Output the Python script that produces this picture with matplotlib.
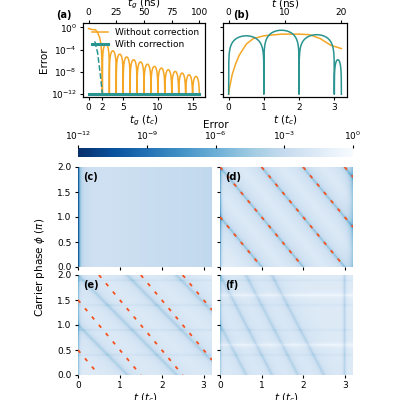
import numpy as np
import matplotlib
matplotlib.use("Agg")
import matplotlib.pyplot as plt
from matplotlib.colors import LogNorm

plt.rcParams['font.size'] = 6.5
plt.rcParams['xtick.major.size'] = 2.5
plt.rcParams['ytick.major.size'] = 2.5
plt.rcParams['xtick.major.pad'] = 2
plt.rcParams['ytick.major.pad'] = 2
ORANGE = "#F5A623"
TEAL = "#2A9490"
RED = "#F4511E"

# (a) data
a_peak_n = list(range(2, 16))
a_peak_log = [-3.0, -4.2, -4.8, -5.3, -5.8, -6.2, -6.6, -7.0, -7.3, -7.6, -7.9, -8.2, -8.5, -8.8]
a_head_t = [0.0, 0.3, 0.6, 1.0, 1.3, 1.6, 1.8, 1.95]
a_head_log = [-0.2, -0.3, -0.4, -0.4, -0.9, -1.8, -3.0, -6.0]
a_dash_t = [0.9, 1.3, 1.7, 2.0]
a_dash_log = [-2.5, -4.5, -8.5, -12.0]
# (b) data
b_or_t = [0.0, 0.02, 0.1, 0.2, 0.3, 0.5, 0.7, 1.0, 1.5, 2.0, 2.3, 2.6, 2.9, 3.2]
b_or_log = [-12.0, -11.0, -8.5, -6.5, -5.0, -3.0, -2.0, -1.5, -1.2, -1.2, -1.3, -2.0, -3.2, -3.8]
b_seg_edges = [0.0, 1.0, 2.0, 3.0, 3.2]
b_seg_peak_log = [-1.5, -0.5, -1.3, -5.8]
# heatmap line offsets
d_offsets = [1, 2, 3, 4, 5]
e_offsets = [0.5, 1.5, 2.5, 3.5, 4.5]
e_dark_offsets = [1.0, 2.0, 3.0, 4.0]
e_bands = [0.4, 0.9, 1.4, 1.9]
f_dark_offsets = [1.0, 2.0, 3.0, 4.0]
f_white_bands = [0.6, 1.6]
f_dark_bands = [0.4, 0.9, 1.4, 1.9]

def dip_curve(edges, peaks, npts=200):
    ts, vs = [], []
    for i, pk in enumerate(peaks):
        t0, t1 = edges[i], edges[i + 1]
        tt = np.linspace(t0, t1, npts)
        s = np.abs(np.sin(np.pi * (tt - t0) / (t1 - t0)))
        v = pk + 2.5 * np.log10(np.maximum(s, 1e-12))
        ts.append(tt); vs.append(np.clip(v, -12, 0))
    return np.concatenate(ts), 10 ** np.concatenate(vs)

fig = plt.figure(figsize=(4, 4), dpi=100)

# (a)
axa = fig.add_axes([0.2075, 0.7575, 0.305, 0.185])
ta, va = dip_curve(list(range(2, 17)), a_peak_log)
axa.plot(np.r_[a_head_t, ta], np.r_[10 ** np.array(a_head_log), va], color=ORANGE, lw=1.1, label="Without correction")
axa.plot([0, 16], [1e-12, 1e-12], color=TEAL, lw=2.2, label="With correction")
axa.plot(a_dash_t, 10 ** np.array(a_dash_log), color=TEAL, lw=1.1, ls="--")
axa.set_yscale("log")
axa.set_ylim(10 ** -12.5, 10 ** 0.8)
axa.set_xlim(-0.8, 16.8)
axa.set_yticks([1e0, 1e-4, 1e-8, 1e-12])
axa.minorticks_off()
axa.set_xticks([0, 2, 5, 10, 15])
axa.set_xlabel("$t_g$ ($t_c$)", labelpad=1, fontsize=7.5)
axa.set_ylabel("Error", labelpad=1, fontsize=7.5)
axa.legend(loc="upper right", frameon=False, fontsize=6.5, handlelength=1.8, borderpad=0.1, labelspacing=0.3)
sa = axa.twiny()
sa.set_xlim(-0.8 * 100 / 16, 16.8 * 100 / 16)
sa.set_xticks([0, 25, 50, 75, 100])
sa.set_xlabel("$t_g$ (ns)", labelpad=1, fontsize=7.5)
axa.text(-0.22, 1.07, "(a)", transform=axa.transAxes, fontweight="bold", fontsize=7)

# (b)
axb = fig.add_axes([0.5575, 0.7575, 0.31, 0.185])
axb.plot(b_or_t, 10 ** np.array(b_or_log), color=ORANGE, lw=1.1)
tb, vb = dip_curve(b_seg_edges, b_seg_peak_log)
axb.plot(tb, vb, color=TEAL, lw=1.1)
axb.set_yscale("log")
axb.set_ylim(10 ** -12.5, 10 ** 0.8)
axb.set_yticks([1e0, 1e-4, 1e-8, 1e-12])
axb.set_yticklabels([])
axb.minorticks_off()
axb.set_xlim(-0.16, 3.36)
axb.set_xticks([0, 1, 2, 3])
axb.set_xlabel("$t$ ($t_c$)", labelpad=1, fontsize=7.5)
sb = axb.twiny()
sb.set_xlim(-0.16 * 20 / 3.2, 3.36 * 20 / 3.2)
sb.set_xticks([0, 10, 20])
sb.set_xlabel("$t$ (ns)", labelpad=1, fontsize=7.5)
axb.text(0.08, 1.07, "(b)", transform=axb.transAxes, fontweight="bold", fontsize=7)

# heatmaps
t = np.linspace(0, 3.2, 321)
p = np.linspace(0, 2, 201)
T, P = np.meshgrid(t, p)

def line_dist(offsets, slope=1.0):
    d = np.full(T.shape, 10.0)
    for c in offsets:
        d = np.minimum(d, np.abs(P - (c - slope * T)) / np.sqrt(1 + slope ** 2))
    return d

def band_dist(bands):
    d = np.full(T.shape, 10.0)
    for b in bands:
        d = np.minimum(d, np.abs(P - b))
    return d

Lc = -2.3 - 0.9 * T / 3.2 - 8 * np.exp(-T / 0.03) - 1.5 * np.exp(-T / 0.15)
dd = line_dist(d_offsets)
Ld = -1.0 - 2.5 * np.exp(-dd / 0.02) - 2.0 * np.exp(-dd / 0.3) - 5 * np.exp(-T / 0.03) - 3 * np.exp(-(3.2 - T) / 0.08)
de = line_dist(e_dark_offsets, 0.85)
Le = -1.4 - 1.8 * np.exp(-de / 0.03) - 1.2 * np.exp(-de / 0.25) - 1.0 * np.exp(-band_dist(e_bands) / 0.015) - 4 * np.exp(-T / 0.03)
df = line_dist(f_dark_offsets, 1.6)
Lf = -1.5 - 1.8 * np.exp(-df / 0.03) - 0.9 * np.exp(-df / 0.25) + 1.3 * np.exp(-band_dist(f_white_bands) / 0.03) \
     - 0.8 * np.exp(-band_dist(f_dark_bands) / 0.015) - 2.5 * np.exp(-np.abs(T - 3.0) / 0.03) - 3 * np.exp(-T / 0.03)

norm = LogNorm(1e-12, 1e0)
boxes = {"c": [0.195, 0.3325, 0.335, 0.25], "d": [0.55, 0.3325, 0.3325, 0.25],
         "e": [0.195, 0.0625, 0.335, 0.25], "f": [0.55, 0.0625, 0.3325, 0.25]}
fields = {"c": Lc, "d": Ld, "e": Le, "f": Lf}
for k in "cdef":
    ax = fig.add_axes(boxes[k])
    im = ax.imshow(10 ** np.clip(fields[k], -12, 0), origin="lower", extent=[0, 3.2, 0, 2], aspect="auto",
                   cmap="Blues_r", norm=norm, interpolation="bilinear")
    ax.set_xticks([0, 1, 2, 3]); ax.set_yticks([0, 0.5, 1.0, 1.5, 2.0])
    if k in "cd":
        ax.set_xticklabels([])
    else:
        ax.set_xlabel("$t$ ($t_c$)", labelpad=1, fontsize=7.5)
    if k in "df":
        ax.set_yticklabels([])
    else:
        ax.set_yticklabels(["0.0", "0.5", "1.0", "1.5", "2.0"])
    for s in ax.spines.values():
        s.set_visible(False)
    offs = d_offsets if k == "d" else (e_offsets if k == "e" else [])
    for c in offs:
        tt = np.linspace(max(0, c - 2), min(3.2, c), 50)
        ax.plot(tt, c - tt, color=RED, ls=(0, (2, 4)), lw=1.3)
    ax.set_xlim(0, 3.2); ax.set_ylim(0, 2)
    ax.text(0.04, 0.87, f"({k})", transform=ax.transAxes, fontweight="bold", fontsize=7)

cax = fig.add_axes([0.195, 0.6075, 0.6875, 0.0225])
cb = fig.colorbar(im, cax=cax, orientation="horizontal")
cb.set_ticks([1e-12, 1e-9, 1e-6, 1e-3, 1e0])
cb.minorticks_off()
cax.xaxis.set_ticks_position("top")
cax.xaxis.set_label_position("top")
cb.set_label("Error", labelpad=1, fontsize=7.5)
cb.outline.set_visible(False)
fig.text(0.1, 0.3325, "Carrier phase $\\phi$ ($\\pi$)", rotation=90, va="center", ha="center", fontsize=7.5)

fig.savefig("out.png", dpi=100)
